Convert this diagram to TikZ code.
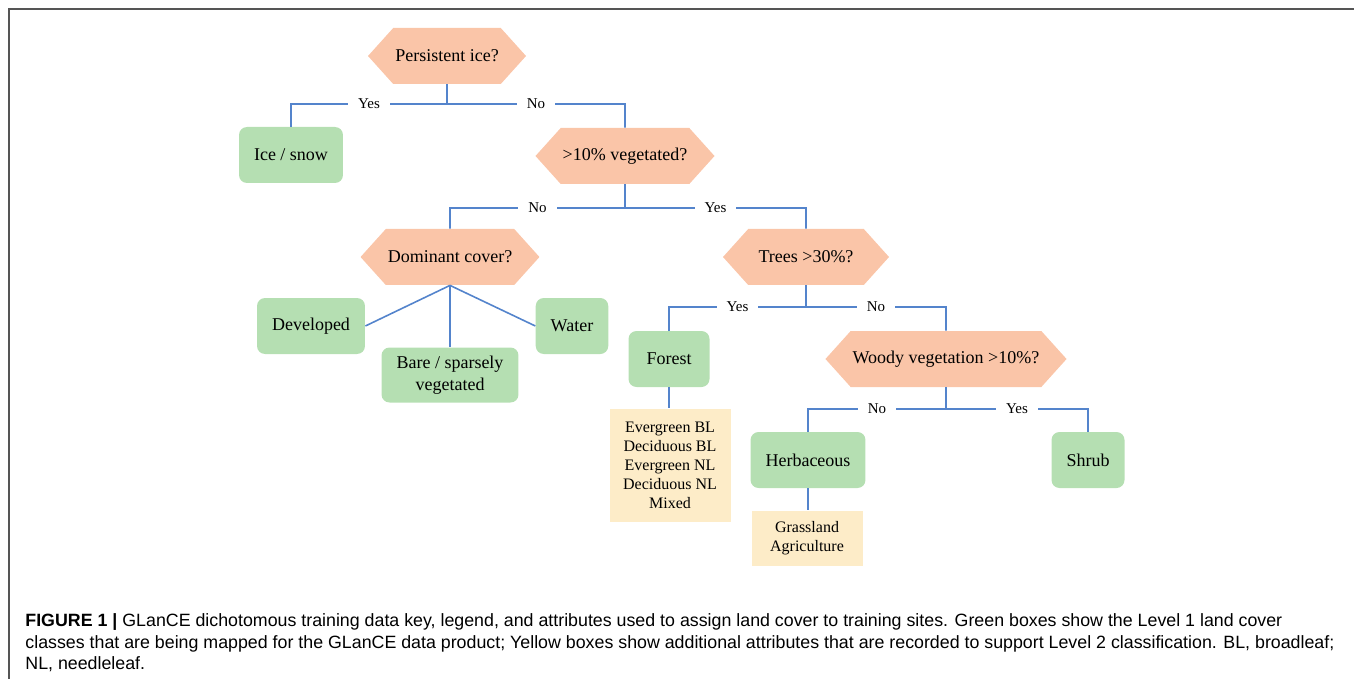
\documentclass[tikz,border=0pt]{standalone}
\usepackage{fontspec}
\setmainfont{Liberation Serif}
\newfontfamily\capfont{Liberation Sans}
\usepackage{tikz}
\usetikzlibrary{shapes.symbols}

\definecolor{hexfill}{RGB}{250,197,168}
\definecolor{leafgreen}{RGB}{181,223,178}
\definecolor{attryellow}{RGB}{253,236,200}
\definecolor{linkblue}{RGB}{84,132,204}
\definecolor{framegray}{RGB}{85,85,85}

\tikzset{
  question/.style={shape=signal, signal to=west and east, signal pointer angle=96,
    fill=hexfill, minimum height=28pt, inner xsep=1pt, font=\fontsize{9}{11}\selectfont},
  leaf/.style={rectangle, rounded corners=4pt, fill=leafgreen, minimum height=28pt,
    inner xsep=7.5pt, align=center, font=\fontsize{9}{11}\selectfont},
  attr/.style={rectangle, fill=attryellow, align=center, font=\fontsize{8}{9.5}\selectfont},
  link/.style={draw=linkblue, line width=0.8pt},
  lbl/.style={fill=white, inner xsep=5pt, inner ysep=1pt, font=\fontsize{7.5}{9}\selectfont},
  caption/.style={anchor=base west, inner sep=0pt, font=\capfont\fontsize{8.9}{10}\selectfont}
}

\begin{document}
\begin{tikzpicture}[x=0.5pt, y=-0.5pt]   % 1 unit = 1 pixel of the figure
    \useasboundingbox (0,0) rectangle (1354,679);
    \draw[framegray, line width=1pt] (9,679) -- (9,9) -- (1354,9);

    % questions
    \node[question, minimum width=79pt] at (447, 56) (ice) {Persistent ice?};
    \node[question, minimum width=87.5pt] at (625, 156) (veg) {>10\% vegetated?};
    \node[question, minimum width=86.5pt] at (450, 257) (dom) {Dominant cover?};
    \node[question, minimum width=83pt] at (806, 257) (trees) {Trees >30\%?};
    \node[question, minimum width=117.5pt] at (946, 359) (woody) {Woody vegetation >10\%?};

    % level 1 classes
    \node[leaf] at (291, 155) (snow) {Ice / snow};
    \node[leaf] at (311, 326) (dev) {Developed};
    \node[leaf] at (572, 326) (water) {Water};
    \node[leaf, minimum height=27.5pt] at (450, 375) (bare) {Bare / sparsely\\vegetated};
    \node[leaf, inner xsep=9pt] at (669, 359) (forest) {Forest};
    \node[leaf] at (808, 460) (herb) {Herbaceous};
    \node[leaf] at (1088, 460) (shrub) {Shrub};

    % level 2 attributes
    \node[attr, minimum width=60.5pt, minimum height=56.5pt] at (670, 465) (foresttypes)
        {Evergreen BL\\Deciduous BL\\Evergreen NL\\Deciduous NL\\Mixed};
    \node[attr, minimum width=55.5pt, minimum height=27.5pt] at (807, 538) (grasstypes)
        {Grassland\\Agriculture};

    % yes / no branches
    \coordinate (j1) at (447, 104);
    \coordinate (j2) at (625, 208);
    \coordinate (j3) at (806, 307);
    \coordinate (j4) at (946, 409);

    \draw[link] (ice.south) -- (j1);
    \draw[link] (j1) -- node[lbl] {Yes} (j1 -| snow) -- (snow);
    \draw[link] (j1) -- node[lbl] {No} (j1 -| veg) -- (veg);

    \draw[link] (veg.south) -- (j2);
    \draw[link] (j2) -- node[lbl] {No} (j2 -| dom) -- (dom);
    \draw[link] (j2) -- node[lbl] {Yes} (j2 -| trees) -- (trees);

    \draw[link] (dom.south) -- (dev.east);
    \draw[link] (dom.south) -- (bare.north);
    \draw[link] (dom.south) -- (water.west);

    \draw[link] (trees.south) -- (j3);
    \draw[link] (j3) -- node[lbl] {Yes} (j3 -| forest) -- (forest);
    \draw[link] (j3) -- node[lbl] {No} (j3 -| woody) -- (woody);

    \draw[link] (woody.south) -- (j4);
    \draw[link] (j4) -- node[lbl] {No} (j4 -| herb) -- (herb);
    \draw[link] (j4) -- node[lbl] {Yes} (j4 -| shrub) -- (shrub);

    \draw[link] (forest.south) -- (forest.south |- foresttypes.north);
    \draw[link] (herb.south) -- (herb.south |- grasstypes.north);

    % caption
    \node[caption] at (25, 626) (cap1) {\textbf{FIGURE 1 |} GLanCE dichotomous training data key, legend, and attributes used to assign land cover to training sites. Green boxes show the Level 1 land cover};
    \node[caption] at (25, 648) (cap2) {classes that are being mapped for the GLanCE data product; Yellow boxes show additional attributes that are recorded to support Level 2 classification. BL, broadleaf;};
    \node[caption] at (25, 669) (cap3) {NL, needleleaf.};
\end{tikzpicture}
\end{document}
